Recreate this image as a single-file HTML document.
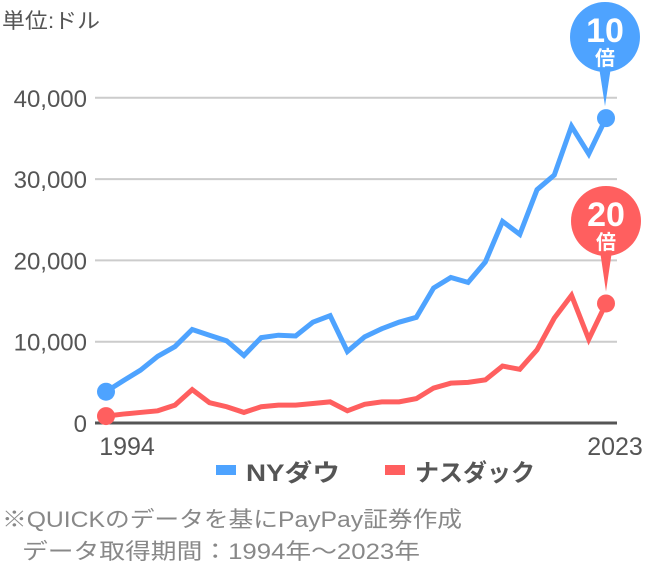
<!DOCTYPE html>
<html><head><meta charset="utf-8"><style>
html,body{margin:0;padding:0;background:#fff;width:656px;height:570px;overflow:hidden}
svg text{font-family:"Liberation Sans","Noto Sans CJK JP",sans-serif}
</style></head><body>
<svg id="chart" width="656" height="570" viewBox="0 0 656 570" xmlns="http://www.w3.org/2000/svg">
<text x="2" y="28" font-size="21" fill="#555" textLength="98" lengthAdjust="spacingAndGlyphs">単位:ドル</text>
<g id="grid"></g>
<g id="lines"></g>
<g id="annot"></g>
<text x="127" y="455" font-size="25" fill="#555" text-anchor="middle">1994</text>
<text x="615" y="455" font-size="25" fill="#555" text-anchor="middle">2023</text>
<g>
<rect x="216" y="465" width="20" height="10" fill="#4ea3ff"/>
<text x="246" y="481" font-size="24" font-weight="bold" fill="#555" textLength="94" lengthAdjust="spacingAndGlyphs">NYダウ</text>
<rect x="385" y="465" width="20" height="10" fill="#ff5f5f"/>
<text x="415" y="481" font-size="24" font-weight="bold" fill="#555" textLength="120" lengthAdjust="spacingAndGlyphs">ナスダック</text>
</g>
<text x="2" y="527" font-size="22" fill="#888" textLength="460" lengthAdjust="spacingAndGlyphs">※QUICKのデータを基にPayPay証券作成</text>
<text x="22" y="559" font-size="22" fill="#888" textLength="398" lengthAdjust="spacingAndGlyphs">データ取得期間：1994年～2023年</text>
</svg>
<script>
const years = [1994,1995,1996,1997,1998,1999,2000,2001,2002,2003,2004,2005,2006,2007,2008,2009,2010,2011,2012,2013,2014,2015,2016,2017,2018,2019,2020,2021,2022,2023];
const dow = [3.85,5.2,6.5,8.2,9.4,11.5,10.8,10.1,8.3,10.5,10.8,10.7,12.4,13.2,8.8,10.6,11.6,12.4,13.0,16.6,17.9,17.3,19.8,24.8,23.2,28.7,30.5,36.5,33.1,37.5];
const nasdaq = [0.85,1.1,1.3,1.5,2.2,4.1,2.5,2.0,1.3,2.0,2.2,2.2,2.4,2.6,1.5,2.3,2.6,2.6,3.0,4.3,4.9,5.0,5.3,7.0,6.6,9.0,12.9,15.7,10.3,14.7];
const yTicks = [0,10000,20000,30000,40000];
const yTickLabels = ["0","10,000","20,000","30,000","40,000"];
const NS="http://www.w3.org/2000/svg";
const X0=106,X1=606,Y0=423,PX=8.13;
function xs(y){return X0+(y-years[0])*(X1-X0)/(years[years.length-1]-years[0]);}
function ys(v){return Y0-v*PX;}
function el(t,a){const e=document.createElementNS(NS,t);for(const k in a)e.setAttribute(k,a[k]);return e;}
const grid=document.getElementById('grid');
yTicks.forEach((t,i)=>{
  const y=ys(t/1000);
  const l=el('line',{x1:95,x2:617,y1:y,y2:y,stroke:i===0?'#555':'#ccc','stroke-width':i===0?3:2});
  
  
  grid.appendChild(l);
  const tx=el('text',{x:87,y:y+9,'font-size':24,fill:'#555','text-anchor':'end'});
  tx.textContent=yTickLabels[i];
  
  
  grid.appendChild(tx);
});
const lines=document.getElementById('lines');
function drawSeries(vals,color,name){
  const p=el('polyline',{points:vals.map((v,i)=>xs(years[i])+','+ys(v)).join(' '),fill:'none',stroke:color,'stroke-width':5,'stroke-linejoin':'miter'});
  
  
  lines.appendChild(p);
  [0,vals.length-1].forEach(i=>{
    const c=el('circle',{cx:xs(years[i]),cy:ys(vals[i]),r:9,fill:color});
    
    
    lines.appendChild(c);
  });
}
drawSeries(dow,'#4ea3ff','ny-dow');
drawSeries(nasdaq,'#ff5f5f','nasdaq');
const an=document.getElementById('annot');
function bubble(cx,cy,tipY,color,txt,name){
  const g=el('g',{});
  
  
  g.appendChild(el('circle',{cx:cx,cy:cy,r:35,fill:color}));
  g.appendChild(el('polygon',{points:(cx-6)+','+(cy+30)+' '+(cx+6)+','+(cy+30)+' '+cx+','+tipY,fill:color}));
  const t1=el('text',{x:cx,y:cy+5,'font-size':34,'font-weight':'bold',fill:'#fff','text-anchor':'middle'});t1.textContent=txt;g.appendChild(t1);
  const t2=el('text',{x:cx,y:cy+28,'font-size':20,'font-weight':'bold',fill:'#fff','text-anchor':'middle'});t2.textContent='倍';g.appendChild(t2);
  an.appendChild(g);
}
bubble(605,37,ys(dow[dow.length-1])-12,'#4ea3ff','10','dow-multiplier-bubble');
bubble(606,221,ys(nasdaq[nasdaq.length-1])-12,'#ff5f5f','20','nasdaq-multiplier-bubble');
</script>
</body></html>
